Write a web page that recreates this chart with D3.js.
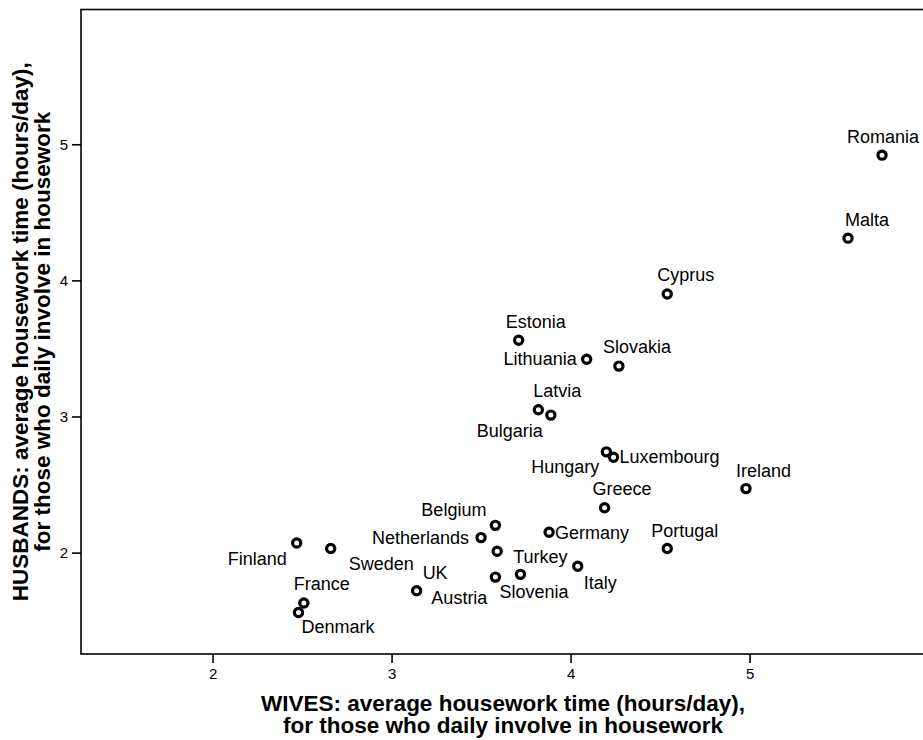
<!DOCTYPE html>
<html>
<head>
<meta charset="utf-8">
<script src="https://cdn.jsdelivr.net/npm/d3@7"></script>
<style>
  html, body { margin: 0; padding: 0; background: #fff; }
  svg { display: block; font-family: "Liberation Sans", Arial, sans-serif; }
  .tick text { font-size: 15px; }
</style>
</head>
<body>
<div id="chart"></div>
<script>
// data (hours/day)
const countries = ["Romania", "Malta", "Cyprus", "Estonia", "Lithuania", "Slovakia",
  "Latvia", "Bulgaria", "Hungary", "Luxembourg", "Greece", "Ireland", "Portugal",
  "Germany", "Belgium", "Netherlands", "Turkey", "Italy", "Austria", "Slovenia",
  "UK", "Sweden", "Finland", "France", "Denmark"];
const wives = [5.74, 5.55, 4.54, 3.71, 4.09, 4.27,
  3.82, 3.89, 4.20, 4.24, 4.19, 4.98, 4.54,
  3.88, 3.58, 3.50, 3.59, 4.04, 3.58, 3.72,
  3.14, 2.66, 2.47, 2.51, 2.48];
const husbands = [4.92, 4.31, 3.90, 3.56, 3.42, 3.37,
  3.05, 3.01, 2.74, 2.70, 2.33, 2.47, 2.03,
  2.15, 2.20, 2.11, 2.01, 1.90, 1.82, 1.84,
  1.72, 2.03, 2.07, 1.63, 1.56];
const xTicks = [2, 3, 4, 5];
const yTicks = [2, 3, 4, 5];
const xTitle = ["WIVES: average housework time (hours/day),", "for those who daily involve in housework"];
const yTitle = ["HUSBANDS: average housework time (hours/day),", "for those who daily involve in housework"];

// label placement relative to the marker: [dx, dy, anchor]
const labelPos = {
  Romania: [-35, -12, "start"], Malta: [-3, -12, "start"], Cyprus: [-10, -13, "start"],
  Estonia: [-13, -12, "start"], Lithuania: [-10, 6, "end"], Slovakia: [-16, -13, "start"],
  Latvia: [-5, -13, "start"], Bulgaria: [-8, 22, "end"], Hungary: [-7, 21, "end"],
  Luxembourg: [6, 6, "start"], Greece: [-12, -13, "start"], Ireland: [-10, -12, "start"],
  Portugal: [-16, -12, "start"], Germany: [6, 7, "start"], Belgium: [-9, -9, "end"],
  Netherlands: [-12, 6, "end"], Turkey: [16, 12, "start"], Italy: [6, 23, "start"],
  Austria: [-8, 27, "end"], Slovenia: [-21, 24, "start"], UK: [6, -12, "start"],
  Sweden: [83, 21, "end"], Finland: [-10, 22, "end"], France: [-10, -13, "start"],
  Denmark: [3, 21, "start"]
};

const W = 923, H = 740;
const m = { l: 81, t: 9.5, r: 925, b: 654 };

const svg = d3.select("#chart").append("svg")
  .attr("width", W).attr("height", H);

const x = d3.scaleLinear().domain([1.265, 5.98]).range([m.l, m.r]);
const y = d3.scaleLinear().domain([1.255, 5.99]).range([m.b, m.t]);

// frame
svg.append("rect")
  .attr("x", m.l).attr("y", m.t)
  .attr("width", m.r - m.l).attr("height", m.b - m.t)
  .attr("fill", "none").attr("stroke", "#000").attr("stroke-width", 1.6);

// axes
const gx = svg.append("g").attr("transform", `translate(0,${m.b})`)
  .call(d3.axisBottom(x).tickValues(xTicks).tickSize(9).tickPadding(5).tickFormat(d3.format("d")));
const gy = svg.append("g").attr("transform", `translate(${m.l},0)`)
  .call(d3.axisLeft(y).tickValues(yTicks).tickSize(9).tickPadding(4).tickFormat(d3.format("d")));
[gx, gy].forEach(ax => {
  ax.attr("font-size", null).attr("font-family", null);
  ax.select(".domain").remove();
  ax.selectAll(".tick line").attr("stroke", "#000").attr("stroke-width", 1.6);
  ax.selectAll(".tick text").attr("fill", "#000").style("font-size", "15px");
});

// axis titles: two lines in one text element
const title = (sel, lines) => {
  sel.attr("text-anchor", "middle")
    .style("font-size", "22.5px").style("font-weight", "bold").attr("fill", "#000");
  sel.selectAll("tspan").data(lines).join("tspan")
    .attr("x", 0).attr("dy", (d, i) => i ? 22 : 0)
    .text(d => d);
};

const xMid = (m.l + m.r) / 2;
svg.append("text").attr("transform", `translate(${xMid},711)`).call(title, xTitle);

const yMid = (m.t + m.b) / 2;
svg.append("text").attr("transform", `translate(28,${yMid}) rotate(-90)`).call(title, yTitle);

// points
const pts = countries.map((c, i) => ({ c, w: wives[i], h: husbands[i] }));

const g = svg.append("g");
g.selectAll("circle").data(pts).join("circle")
  .attr("cx", d => x(d.w)).attr("cy", d => y(d.h))
  .attr("r", 4.1)
  .attr("fill", "#fff").attr("stroke", "#000").attr("stroke-width", 3.2);

g.selectAll("text").data(pts).join("text")
  .attr("x", d => x(d.w) + labelPos[d.c][0])
  .attr("y", d => y(d.h) + labelPos[d.c][1])
  .attr("text-anchor", d => labelPos[d.c][2])
  .style("font-size", "18px").attr("fill", "#000")
  .text(d => d.c);
</script>
</body>
</html>
